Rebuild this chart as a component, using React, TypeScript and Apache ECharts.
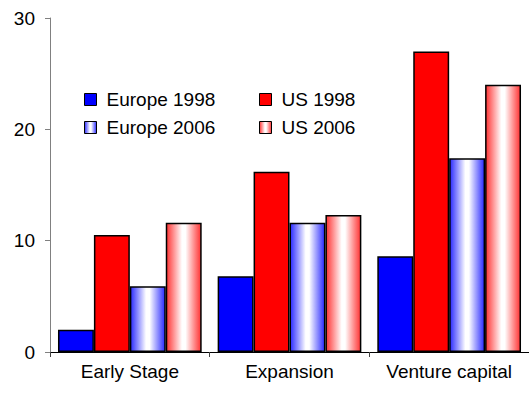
import React, { useEffect, useRef } from "react";
import * as echarts from "echarts";

const categories = ["Early Stage", "Expansion", "Venture capital"];
const europe1998 = [2.0, 6.8, 8.6];
const us1998 = [10.5, 16.2, 27.0];
const europe2006 = [5.9, 11.6, 17.4];
const us2006 = [11.6, 12.3, 24.0];
const yTicks = [0, 10, 20, 30];

const grad = (c: string) =>
  new echarts.graphic.LinearGradient(0, 0, 1, 0, [
    { offset: 0, color: c },
    { offset: 0.45, color: "#ffffff" },
    { offset: 0.55, color: "#ffffff" },
    { offset: 1, color: c },
  ]);

export default function App() {
  const ref = useRef<HTMLDivElement>(null);
  useEffect(() => {
    if (!ref.current) return;
    const chart = echarts.init(ref.current, null, { renderer: "svg" });
    const font = "Liberation Sans, Arial, sans-serif";
    const mkLegend = (name: string, left: number, top: number) => ({
      data: [name],
      left,
      top,
      orient: "horizontal",
      itemWidth: 12,
      itemHeight: 12,
      icon: "rect",
      padding: 0,
      textStyle: { fontSize: 19, fontFamily: font, color: "#000", padding: [0, 0, 0, 5] },
      itemStyle: { borderColor: "#000", borderWidth: 1 },
    });
    const itemBase = { borderColor: "#000", borderWidth: 1.5 };
    chart.setOption({
      animation: false,
      backgroundColor: "#fff",
      grid: { left: 50, right: 0, top: 18, bottom: 42 },
      legend: [
        mkLegend("Europe 1998", 84, 90),
        mkLegend("US 1998", 259, 90),
        mkLegend("Europe 2006", 84, 118),
        mkLegend("US 2006", 259, 118),
      ],
      xAxis: {
        type: "category",
        data: categories,
        axisLine: { lineStyle: { color: "#000", width: 1 } },
        axisTick: { show: true, length: 5, interval: 0, lineStyle: { color: "#404040" } },
        axisLabel: {
          fontSize: 19,
          fontFamily: font,
          color: "#000",
          margin: 10,
          interval: 0,
          hideOverlap: false,
        },
      },
      yAxis: {
        type: "value",
        min: yTicks[0],
        max: yTicks[yTicks.length - 1],
        interval: 10,
        axisLine: { show: true, lineStyle: { color: "#808080", width: 1 } },
        axisTick: { show: true, length: 5, lineStyle: { color: "#808080" } },
        splitLine: { show: false },
        axisLabel: { fontSize: 19, fontFamily: font, color: "#000", margin: 15 },
      },
      series: [
        {
          name: "Europe 1998",
          type: "bar",
          data: europe1998,
          barGap: "0%",
          barCategoryGap: "10%",
          itemStyle: { ...itemBase, color: "#0000ff" },
        },
        {
          name: "US 1998",
          type: "bar",
          data: us1998,
          itemStyle: { ...itemBase, color: "#ff0000" },
        },
        {
          name: "Europe 2006",
          type: "bar",
          data: europe2006,
          itemStyle: { ...itemBase, color: grad("#2a2aff") },
        },
        {
          name: "US 2006",
          type: "bar",
          data: us2006,
          itemStyle: { ...itemBase, color: grad("#ff3333") },
        },
      ],
    });
    return () => chart.dispose();
  }, []);
  return <div ref={ref} style={{ width: 529, height: 394, position: "absolute", left: 0, top: 0 }} />;
}
